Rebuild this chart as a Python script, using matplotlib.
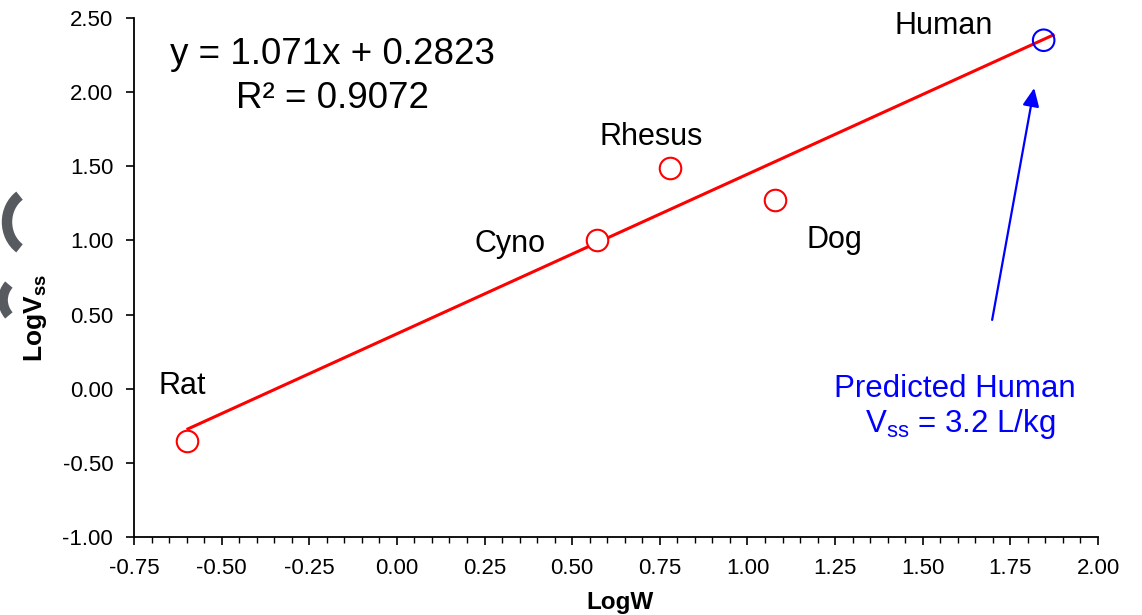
import matplotlib
matplotlib.use("Agg")
import matplotlib.pyplot as plt
from matplotlib.patches import Arc
from matplotlib.ticker import MultipleLocator
from matplotlib.transforms import IdentityTransform

plt.rcParams["font.family"] = ["Liberation Sans", "DejaVu Sans"]
plt.rcParams["mathtext.fontset"] = "custom"
plt.rcParams["mathtext.rm"] = "Liberation Sans"
plt.rcParams["mathtext.bf"] = "Liberation Sans:bold"

# species data (log body weight, log Vss)
species = ["Rat", "Cyno", "Rhesus", "Dog"]
log_w = [-0.60, 0.57, 0.78, 1.08]
log_vss = [-0.35, 1.00, 1.49, 1.27]

human_log_w = 1.845
human_log_vss = 2.35

# drawn fit line
fit_x = [-0.596, 1.872]
fit_y = [-0.271, 2.385]

equation = "y = 1.071x + 0.2823"
r_squared = "R\u00b2 = 0.9072"

x_ticks = [-0.75, -0.50, -0.25, 0.00, 0.25, 0.50, 0.75, 1.00, 1.25, 1.50, 1.75, 2.00]
y_ticks = [-1.00, -0.50, 0.00, 0.50, 1.00, 1.50, 2.00, 2.50]

fig = plt.figure(figsize=(11.42, 6.15), dpi=100)
ax = fig.add_axes([134 / 1142, 78 / 615, 964 / 1142, 519 / 615])

ax.plot(fit_x, fit_y, color="#ff0000", lw=2.2, zorder=2)
ax.scatter(log_w, log_vss, s=15.5 ** 2, facecolors="white", edgecolors="#ff0000",
           linewidths=1.5, zorder=3)
ax.scatter([human_log_w], [human_log_vss], s=15.5 ** 2, facecolors="none",
           edgecolors="#0000ff", linewidths=1.5, zorder=3)

label_pos = {
    "Rat": (-0.613, 0.02),
    "Cyno": (0.323, 0.975),
    "Rhesus": (0.725, 1.70),
    "Dog": (1.247, 1.00),
    "Human": (1.561, 2.445),
}
for name, (lx, ly) in label_pos.items():
    ax.text(lx, ly, name, fontsize=22, ha="center", va="center", color="black")

ax.text(-0.185, 2.255, equation, fontsize=26.5, ha="center", va="center")
ax.text(-0.185, 1.955, r_squared, fontsize=26.5, ha="center", va="center")

ax.annotate("", xy=(1.818, 2.028), xytext=(1.698, 0.464),
            arrowprops=dict(arrowstyle="-|>,head_length=1.1,head_width=0.5",
                            color="#0000ff", lw=1.6, shrinkA=0, shrinkB=0))
ax.text(1.592, -0.005, "Predicted Human", fontsize=22.5, color="#0000ff",
        ha="center", va="center")
ax.text(1.607, -0.24, r"V$_{\mathrm{ss}}$ = 3.2 L/kg", fontsize=22.5,
        color="#0000ff", ha="center", va="center")

ax.set_xlim(-0.75, 2.00)
ax.set_ylim(-1.00, 2.50)
ax.set_xticks(x_ticks)
ax.set_xticklabels([f"{t:.2f}" for t in x_ticks])
ax.set_yticks(y_ticks)
ax.set_yticklabels([f"{t:.2f}" for t in y_ticks])
ax.xaxis.set_minor_locator(MultipleLocator(0.05))
ax.tick_params(axis="both", which="major", direction="out", length=6,
               width=1.2, labelsize=16)
ax.tick_params(axis="x", which="major", pad=9)
ax.tick_params(axis="y", which="major", pad=9)
ax.tick_params(axis="x", which="minor", direction="out", length=4, width=1.0)
ax.tick_params(axis="y", which="minor", left=False)

for side in ["top", "right"]:
    ax.spines[side].set_visible(False)
for side in ["left", "bottom"]:
    ax.spines[side].set_linewidth(1.3)

ax.set_xlabel("LogW", fontsize=17.5, fontweight="bold")
ax.xaxis.set_label_coords(0.5045, -0.104)
ax.set_ylabel(r"$\mathbf{LogV_{ss}}$", fontsize=19)
ax.yaxis.set_label_coords(-0.088, 0.422)

# grey fragments at the left edge of the slide
fig.patches.append(Arc((36, 393), 58, 64, theta1=122, theta2=238, lw=7.5,
                       color="#575b60", transform=IdentityTransform()))
fig.patches.append(Arc((26, 315), 46, 46, theta1=138, theta2=222, lw=7,
                       color="#575b60", transform=IdentityTransform()))

fig.savefig("out.png", dpi=100)
